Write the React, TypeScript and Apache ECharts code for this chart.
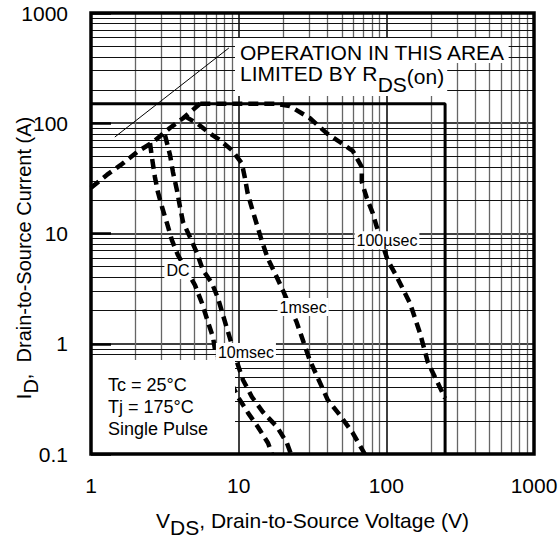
import React, { useEffect, useRef } from 'react';
import * as echarts from 'echarts';

const FONT = "'Liberation Sans', Arial, Helvetica, sans-serif";

// Axis ranges (tick labels come from the log axes)
const xRange = [1, 1000];
const yRange = [0.1, 1000];

// Minor grid positions
const xMinorGrid = [2, 3, 4, 5, 6, 7, 8, 9, 20, 30, 40, 50, 60, 70, 80, 90, 200, 300, 400, 500, 600, 700, 800, 900];
const yMinorGrid = [0.2, 0.3, 0.4, 0.5, 0.6, 0.7, 0.8, 0.9, 2, 3, 4, 5, 6, 7, 8, 9, 20, 30, 40, 50, 60, 70, 80, 90, 200, 300, 400, 500, 600, 700, 800, 900];

// Curves: [V_DS, I_D]
const rdsOnLimit: number[][] = [[1, 26], [1.28, 34], [1.62, 42.6], [2.05, 54.8], [2.63, 67.5], [3.42, 90.6], [4.2, 111], [5.47, 150]];
const dcLine: number[][] = [[2.51, 66], [2.59, 48.3], [2.71, 32.4], [2.84, 23.7], [3.03, 17.3], [3.27, 12.4], [3.53, 8.7], [3.88, 6.37], [5.06, 3.4], [5.64, 2.34], [6.2, 1.57], [6.7, 1.15], [6.92, 0.877], [9.89, 0.329], [11.6, 0.235], [13.5, 0.176], [15.8, 0.126], [16.8, 0.1]];
const tenMsLine: number[][] = [[3.17, 78], [3.43, 51.4], [3.59, 36], [3.82, 24.7], [4.01, 17.3], [4.2, 12.7], [4.68, 9.27], [5.22, 6.64], [5.73, 4.66], [6.59, 3.55], [7.24, 2.59], [7.83, 1.82], [8.47, 1.28], [9.89, 0.641], [10.7, 0.469], [12.3, 0.329], [14.6, 0.24], [18.2, 0.176], [21.2, 0.126], [22.6, 0.1]];
const oneMsLine: number[][] = [[4.3, 116], [5.21, 100], [6.38, 81], [7.45, 70.5], [9.0, 57], [10.5, 43.5], [11.0, 32.4], [11.5, 23.2], [12.4, 16.3], [14.3, 8.7], [15.7, 6.0], [17.6, 4.37], [19.9, 3.07], [24.7, 1.57], [30.3, 0.71], [40.1, 0.31], [48.4, 0.226], [59.3, 0.155], [71.5, 0.1]];
const hundredUsLine: number[][] = [[5.5, 150], [18, 150], [22.2, 143], [30.4, 111], [39.6, 81], [48.4, 67.6], [59.3, 56], [68.2, 40.1], [68.2, 29.3], [73.7, 21], [80.9, 15.3], [86.1, 11.5], [102, 5.75], [118, 4.03], [144.5, 2.34], [169, 1.25], [191, 0.68], [231, 0.4], [250, 0.32]];
const soaBoundary: number[][] = [[1, 150], [250, 150], [250, 0.1]];
const rdsPointer: number[][] = [[1.45, 75], [8.59, 482]];

const curveLabels = [
  { name: 'DC', value: [3.88, 4.66] },
  { name: '10msec', value: [11.2, 0.84] },
  { name: '1msec', value: [27.3, 2.15] },
  { name: '100µsec', value: [101, 8.7] },
];
const conditions = ['Tc = 25°C', 'Tj = 175°C', 'Single Pulse'];

const dashed = (data: number[][], z = 10) => ({
  type: 'line',
  data,
  symbol: 'none',
  showSymbol: false,
  z,
  lineStyle: { color: '#000', width: 4.5, type: [10, 6], cap: 'butt' },
});

const plainNum = (v: number) => String(Math.round(v * 1000) / 1000);

const subRich = (size: number, shift: number) => ({
  n: { fontSize: size, fontFamily: FONT, color: '#000', fill: '#000', verticalAlign: 'top' },
  s: { fontSize: size, fontFamily: FONT, color: '#000', fill: '#000', verticalAlign: 'top', padding: [shift, 0, 0, 0] },
});

export default function App() {
  const ref = useRef<HTMLDivElement>(null);
  useEffect(() => {
    const chart = echarts.init(ref.current!, null, { renderer: 'svg' });
    const gridL = 91, gridT = 13, gridR = 26, gridB = 86;
    const W = 560, H = 540;
    const option: any = {
      animation: false,
      backgroundColor: '#fff',
      textStyle: { fontFamily: FONT },
      grid: { left: gridL, top: gridT, right: gridR, bottom: gridB, containLabel: false, outerBoundsMode: 'none' },
      xAxis: {
        type: 'log', logBase: 10, min: xRange[0], max: xRange[1],
        axisLine: { show: false },
        axisTick: { show: false },
        axisLabel: { fontSize: 21, color: '#000', fontFamily: FONT, margin: 21, formatter: plainNum },
        splitLine: { show: true, lineStyle: { color: '#000', width: 1.5 } },
        name: '{n|V}{s|DS}{n|, Drain-to-Source Voltage (V)}',
        nameLocation: 'middle',
        nameGap: 56,
        nameMoveOverlap: false,
        nameTextStyle: { fontSize: 21, color: '#000', fontFamily: FONT, rich: subRich(21, 7) },
      },
      yAxis: {
        type: 'log', logBase: 10, min: yRange[0], max: yRange[1],
        axisLine: { show: false },
        axisTick: { show: true, inside: true, length: 20, lineStyle: { color: '#000', width: 2.5 } },
        axisLabel: { fontSize: 21, color: '#000', fontFamily: FONT, margin: 23, formatter: plainNum },
        splitLine: { show: true, lineStyle: { color: '#000', width: 1.5 } },
      },
      series: [
        {
          type: 'line',
          data: [],
          z: 1,
          symbol: 'none',
          markLine: {
            silent: true,
            z: 1,
            symbol: ['none', 'none'],
            label: { show: false },
            animation: false,
            data: [
              ...xMinorGrid.map((v) => ({ xAxis: v, lineStyle: { color: '#666', width: 1.3, type: 'solid' } })),
              ...yMinorGrid.map((v) => ({ yAxis: v, lineStyle: { color: '#111', width: 1, type: 'solid' } })),
            ],
          },
        },
        dashed(rdsOnLimit),
        dashed(dcLine),
        dashed(tenMsLine),
        dashed(oneMsLine),
        dashed(hundredUsLine),
        {
          type: 'line', data: soaBoundary, symbol: 'none', z: 15,
          lineStyle: { color: '#000', width: 3, type: 'solid' },
        },
        {
          type: 'line', data: rdsPointer, symbol: 'none', z: 15,
          lineStyle: { color: '#000', width: 1, type: 'solid' },
        },
        {
          type: 'scatter', data: curveLabels, symbolSize: 1, z: 20,
          itemStyle: { color: '#fff', opacity: 1 },
          label: {
            show: true, position: 'inside', formatter: '{b}', fontSize: 16, color: '#000',
            textBorderWidth: 0, fontFamily: FONT, backgroundColor: '#fff', padding: [1, 2, 1, 2],
          },
        },
      ],
      graphic: [
        {
          type: 'text', z: 60, x: 27, y: 258, rotation: Math.PI / 2,
          style: {
            text: '{n|I}{s|D}{n|,  Drain-to-Source Current (A)}',
            fill: '#000', fontSize: 20, fontFamily: FONT, align: 'center', verticalAlign: 'middle',
            rich: subRich(20, 7),
          },
        },
        {
          type: 'rect', z: 50,
          shape: { x: gridL + 1, y: 360, width: 143, height: H - gridB - 360 - 1 },
          style: { fill: '#fff', stroke: 'none' },
        },
        {
          type: 'text', z: 51, x: 108, y: 374,
          style: {
            text: conditions.join('\n'), fill: '#000', fontSize: 18, fontFamily: FONT,
            lineHeight: 22, verticalAlign: 'top', align: 'left',
          },
        },
        {
          type: 'text', z: 50, x: 235, y: 38,
          style: {
            text: 'OPERATION IN THIS AREA', fill: '#000', fontSize: 21, fontFamily: FONT,
            lineHeight: 22, verticalAlign: 'top', align: 'left',
            backgroundColor: '#fff', padding: [3, 3, 0, 5],
          },
        },
        {
          type: 'text', z: 50, x: 235, y: 63,
          style: {
            text: '{n|LIMITED BY R}{s|DS}{o|(on)}', fill: '#000', fontSize: 21, fontFamily: FONT,
            verticalAlign: 'top', align: 'left',
            backgroundColor: '#fff', padding: [0, 3, 1, 5],
            rich: {
              n: { fontSize: 21, fontFamily: FONT, fill: '#000', verticalAlign: 'top', lineHeight: 22 },
              s: { fontSize: 21, fontFamily: FONT, fill: '#000', verticalAlign: 'top', padding: [11, 0, 0, 0] },
              o: { fontSize: 21, fontFamily: FONT, fill: '#000', verticalAlign: 'top', padding: [3, 0, 0, 0] },
            },
          },
        },
        {
          type: 'rect', z: 100,
          shape: { x: gridL, y: gridT, width: W - gridL - gridR, height: H - gridT - gridB },
          style: { fill: 'none', stroke: '#000', lineWidth: 3.5 },
        },
      ],
    };
    chart.setOption(option);
    return () => chart.dispose();
  }, []);
  return <div ref={ref} style={{ position: 'fixed', left: 0, top: 0, width: 560, height: 540 }} />;
}
